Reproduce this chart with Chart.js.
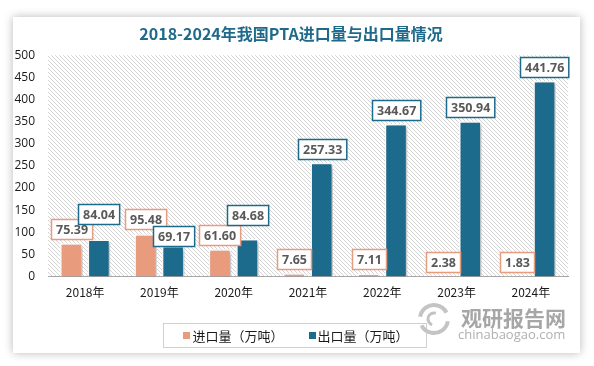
<!DOCTYPE html>
<html>
<head>
<meta charset="utf-8">
<script src="https://cdn.jsdelivr.net/npm/chart.js@4.4.1/dist/chart.umd.min.js"></script>
<style>
  html, body { margin: 0; padding: 0; background: #ffffff; }
  #card {
    position: absolute; left: 13px; top: 17px; width: 567px; height: 336px;
    background: #ffffff; box-shadow: 0 0 9px rgba(0, 0, 0, 0.28);
  }
  #chart { position: absolute; left: 0; top: 0; }
</style>
</head>
<body>
<div id="card"></div>
<canvas id="chart" width="594" height="366"></canvas>
<script>
// Data
const years = ['2018年', '2019年', '2020年', '2021年', '2022年', '2023年', '2024年'];
const importVolume = [75.39, 95.48, 61.60, 7.65, 7.11, 2.38, 1.83];
const exportVolume = [84.04, 69.17, 84.68, 257.33, 344.67, 350.94, 441.76];
const seriesNames = ['进口量（万吨）', '出口量（万吨）'];
const yTicks = [0, 50, 100, 150, 200, 250, 300, 350, 400, 450, 500];

// Extra lift of a few value boxes, as they were nudged in the original
const importLabelLift = [0, 1, 0, 0, 0, 0, 0];
const exportLabelLift = [11, -4, 10, 0, 0, 0, 0];

const IMPORT_COLOR = '#E99B7D';
const EXPORT_COLOR = '#1C6B8C';
const LABEL_FONT = 'bold 12.5px "Open Sans", sans-serif';
const CJK = '"Noto Sans CJK SC", "Open Sans", sans-serif';

function makeHatch() {
  const tile = document.createElement('canvas');
  tile.width = 4;
  tile.height = 4;
  const t = tile.getContext('2d');
  t.fillStyle = '#ffffff';
  t.fillRect(0, 0, 4, 4);
  t.strokeStyle = '#d4d4d4';
  t.lineWidth = 1;
  t.beginPath();
  t.moveTo(-1, -1); t.lineTo(5, 5);
  t.moveTo(-1, 3); t.lineTo(1, 5);
  t.moveTo(3, -1); t.lineTo(5, 1);
  t.stroke();
  return tile;
}

const hatchPlugin = {
  id: 'hatch',
  beforeDraw(chart) {
    const { ctx, chartArea: a } = chart;
    ctx.save();
    ctx.fillStyle = ctx.createPattern(makeHatch(), 'repeat');
    ctx.fillRect(a.left, a.top, a.right - a.left, a.bottom - a.top);
    ctx.restore();
  }
};

const shadowPlugin = {
  id: 'barShadow',
  beforeDatasetsDraw(chart) {
    const ctx = chart.ctx;
    ctx.save();
    ctx.shadowColor = 'rgba(0, 0, 0, 0.28)';
    ctx.shadowBlur = 4;
    ctx.shadowOffsetX = 2;
    ctx.shadowOffsetY = 2;
  },
  afterDatasetsDraw(chart) {
    chart.ctx.restore();
  }
};

const valueBoxPlugin = {
  id: 'valueBoxes',
  afterDatasetsDraw(chart) {
    const ctx = chart.ctx;
    const lifts = [importLabelLift, exportLabelLift];
    ctx.save();
    ctx.font = LABEL_FONT;
    ctx.textAlign = 'center';
    ctx.textBaseline = 'middle';
    chart.data.datasets.forEach((ds, di) => {
      const meta = chart.getDatasetMeta(di);
      meta.data.forEach((bar, i) => {
        const text = ds.data[i].toFixed(2);
        const w = ctx.measureText(text).width + 9;
        const h = 20;
        const bottom = bar.y - 4 - lifts[di][i];
        const left = Math.round(bar.x - w / 2) + 0.5;
        const top = Math.round(bottom - h) + 0.5;
        ctx.fillStyle = '#ffffff';
        ctx.fillRect(left, top, w, h);
        ctx.strokeStyle = ds.backgroundColor;
        ctx.lineWidth = 1.5;
        ctx.strokeRect(left, top, w, h);
        ctx.fillStyle = '#595959';
        ctx.fillText(text, left + w / 2, top + h / 2 + 0.5);
      });
    });
    ctx.restore();
  }
};

const legendBoxPlugin = {
  id: 'legendBox',
  afterDraw(chart) {
    const ctx = chart.ctx;
    const cx = chart.width / 2 - 1;
    const y = 335;
    ctx.save();
    ctx.font = '13px ' + CJK;
    const widths = chart.data.datasets.map(ds => 7 + 2 + ctx.measureText(ds.label).width);
    const gap = 25;
    const inner = widths.reduce((s, v) => s + v, 0) + gap;
    const boxLeft = Math.round(cx - inner / 2 - 20) + 0.5;
    ctx.strokeStyle = '#d0d0d0';
    ctx.lineWidth = 1;
    ctx.strokeRect(boxLeft, 323.5, inner + 38, 24);
    let x = cx - inner / 2;
    ctx.textBaseline = 'middle';
    chart.data.datasets.forEach((ds, i) => {
      ctx.fillStyle = ds.backgroundColor;
      ctx.fillRect(Math.round(x), y - 3, 7, 7);
      ctx.fillStyle = '#1a1a1a';
      ctx.fillText(ds.label, x + 9, y + 1);
      x += widths[i] + gap;
    });

    // watermark
    ctx.fillStyle = '#a6a6a6';
    ctx.font = 'bold 21px ' + CJK;
    ctx.textAlign = 'left';
    ctx.fillText('观研报告网', 461, 318);
    ctx.fillStyle = '#b0b0b0';
    ctx.font = '13px "Open Sans", sans-serif';
    ctx.fillText('chinabaogao.com', 458, 335);
    ctx.strokeStyle = '#c4c4c4';
    ctx.lineWidth = 4;
    ctx.beginPath();
    ctx.arc(434, 319, 14, Math.PI * 1.05, Math.PI * 1.85);
    ctx.stroke();
    ctx.beginPath();
    ctx.arc(434, 319, 14, Math.PI * 0.05, Math.PI * 0.85);
    ctx.stroke();
    ctx.lineWidth = 3;
    ctx.beginPath();
    ctx.arc(434, 319, 6, Math.PI * 0.6, Math.PI * 1.6);
    ctx.stroke();
    ctx.restore();
  }
};

new Chart(document.getElementById('chart'), {
  type: 'bar',
  data: {
    labels: years,
    datasets: [
      {
        label: seriesNames[0],
        data: importVolume,
        backgroundColor: IMPORT_COLOR,
        borderColor: '#ffffff',
        borderWidth: 1.5,
        categoryPercentage: 0.74,
        barPercentage: 0.82
      },
      {
        label: seriesNames[1],
        data: exportVolume,
        backgroundColor: EXPORT_COLOR,
        borderColor: '#ffffff',
        borderWidth: 1.5,
        categoryPercentage: 0.74,
        barPercentage: 0.82
      }
    ]
  },
  options: {
    responsive: false,
    animation: false,
    layout: { padding: { left: 14, right: 26, top: 0, bottom: 57 } },
    plugins: {
      legend: { display: false },
      tooltip: { enabled: false },
      title: {
        display: true,
        text: '2018-2024年我国PTA进口量与出口量情况',
        color: '#1F6A8A',
        font: { family: CJK, size: 16, weight: 'bold' },
        padding: { top: 24, bottom: 12 }
      }
    },
    scales: {
      x: {
        grid: { display: false, drawTicks: false },
        border: { display: true, color: '#a6a6a6', width: 1 },
        ticks: { color: '#1a1a1a', font: { family: CJK, size: 12 }, padding: 9 }
      },
      y: {
        min: 0,
        max: 500,
        afterBuildTicks: axis => { axis.ticks = yTicks.map(v => ({ value: v })); },
        afterFit: axis => { axis.width = 34; },
        grid: { display: false, drawTicks: false },
        border: { display: false },
        ticks: { color: '#1a1a1a', font: { family: '"Open Sans", sans-serif', size: 12 }, padding: 13 }
      }
    }
  },
  plugins: [hatchPlugin, shadowPlugin, valueBoxPlugin, legendBoxPlugin]
});
</script>
</body>
</html>
